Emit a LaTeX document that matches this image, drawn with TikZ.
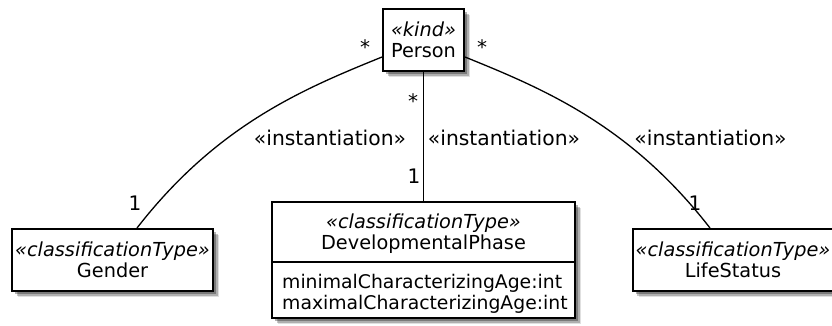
\documentclass[tikz,border=0pt]{standalone}
\usepackage{fontspec}
\setmainfont{DejaVu Sans}
\usetikzlibrary{shadows}
\begin{document}
\begin{tikzpicture}[x=1pt,y=-1pt,
  box/.style={draw=black, line width=2pt, fill=white, inner sep=0pt, align=center,
    font={\fontsize{19.3}{21}\selectfont},
    drop shadow={shadow xshift=6pt, shadow yshift=-6pt, fill=black, opacity=0.12},
    drop shadow={shadow xshift=4.5pt, shadow yshift=-4.5pt, fill=black, opacity=0.22},
    drop shadow={shadow xshift=3pt, shadow yshift=-3pt, fill=black, opacity=0.3}},
  txt/.style={inner sep=0pt, font={\fontsize{19.3}{21}\selectfont}},
  attr/.style={inner sep=0pt, font={\fontsize{18.8}{21}\selectfont}},
  lbl/.style={inner sep=0pt, font={\fontsize{20.3}{22}\selectfont}},
  mult/.style={inner sep=0pt, font={\fontsize{20}{22}\selectfont}},
  conn/.style={draw=black, line width=1.3pt}]
\useasboundingbox (0,0) rectangle (832,325);

% classes
\node[box, minimum width=81pt, minimum height=62pt] (person) at (423.5,40) {{\itshape «kind»}\\Person};
\node[box, minimum width=201pt, minimum height=62pt] (gender) at (112.5,260) {{\itshape «classificationType»}\\Gender};
\node[box, minimum width=303pt, minimum height=116pt] (dp) at (423.5,260) {};
\node[box, minimum width=201pt, minimum height=62pt] (life) at (733,260) {{\itshape «classificationType»}\\LifeStatus};

% DevelopmentalPhase contents
\node[txt, anchor=base] (dpst) at (423.5,228) {\itshape «classificationType»};
\node[txt, anchor=base] (dpname) at (423.5,249) {DevelopmentalPhase};
\draw[line width=1.5pt] ([yshift=-2pt]dp.west) -- ([yshift=-2pt]dp.east);
\node[attr, anchor=base west] (dpa1) at (282,288) {minimalCharacterizingAge:int};
\node[attr, anchor=base west] (dpa2) at (282,309) {maximalCharacterizingAge:int};

% connectors
\draw[conn] ([yshift=-17pt]person.west) .. controls (303,89) and (217,125) .. ([xshift=24.5pt]gender.north);
\draw[conn] (person.south) -- (dp.north);
\draw[conn] ([yshift=-17pt]person.east) .. controls (544,89) and (630,125) .. ([xshift=-23pt]life.north);

% labels
\node[lbl, anchor=base] (lab1) at (330,145) {«instantiation»};
\node[lbl, anchor=base] (lab2) at (504,145) {«instantiation»};
\node[lbl, anchor=base] (lab3) at (710.5,145) {«instantiation»};

% multiplicities
\node[mult, anchor=base] (m1) at (365,54.8) {*};
\node[mult, anchor=base] (m2) at (482,54.8) {*};
\node[mult, anchor=base] (m3) at (413,108.8) {*};
\node[mult, anchor=base] (n1) at (135,210) {1};
\node[mult, anchor=base] (n2) at (414,183) {1};
\node[mult, anchor=base] (n3) at (695,210) {1};
\end{tikzpicture}
\end{document}
